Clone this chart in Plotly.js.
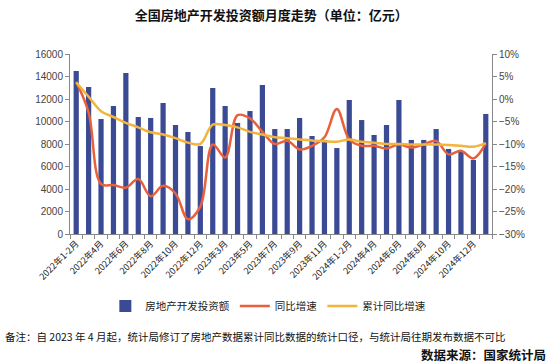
<!DOCTYPE html>
<html>
<head>
<meta charset="utf-8">
<script src="https://cdn.plot.ly/plotly-3.0.1.min.js"></script>
<style>
html,body{margin:0;padding:0;background:#fff;}
#chart{width:550px;height:363px;}
</style>
</head>
<body>
<div id="chart"></div>
<script>
var categories = [
  "2022年1-2月","2022年3月","2022年4月","2022年5月","2022年6月","2022年7月","2022年8月","2022年9月","2022年10月","2022年11月","2022年12月",
  "2023年1-2月","2023年3月","2023年4月","2023年5月","2023年6月","2023年7月","2023年8月","2023年9月","2023年10月","2023年11月","2023年12月",
  "2024年1-2月","2024年3月","2024年4月","2024年5月","2024年6月","2024年7月","2024年8月","2024年9月","2024年10月","2024年11月","2024年12月",
  "2025年1-2月"
];
var tickLabels = [
  "2022年1-2月","","2022年4月","","2022年6月","","2022年8月","","2022年10月","","2022年12月",
  "","2023年3月","","2023年5月","","2023年7月","","2023年9月","","2023年11月","",
  "2024年1-2月","","2024年4月","","2024年6月","","2024年8月","","2024年10月","","2024年12月",
  ""
];
var investment = [14499, 13070, 10220, 11380, 14310, 10400, 10310, 11640, 9690, 9070, 7820,
  12980, 11380, 9870, 10930, 13240, 9330, 9330, 10310, 8710, 8360, 7640,
  11910, 10130, 8800, 9690, 11910, 8360, 8360, 9330, 7560, 7290, 6580,
  10670];
var yoy = [3.8, -3.0, -18.9, -19.1, -19.7, -17.8, -21.6, -19.3, -21.0, -26.7, -23.9,
  -10.1, -13.0, -3.6, -4.3, -7.3, -10.0, -9.3, -11.2, -10.4, -8.5, -2.2,
  -9.0, -10.4, -10.4, -11.0, -10.1, -10.8, -10.1, -9.3, -12.3, -11.5, -13.2,
  -9.8];
var cumYoy = [3.7, 0.5, -2.7, -4.0, -5.3, -6.3, -7.4, -7.9, -8.7, -9.7, -10.0,
  -5.7, -5.8, -6.3, -7.3, -7.9, -8.5, -8.7, -9.0, -9.2, -9.4, -9.5,
  -9.0, -9.5, -9.7, -10.0, -10.0, -10.1, -10.1, -10.1, -10.2, -10.4, -10.6,
  -9.8];

var seriesNames = ["房地产开发投资额", "同比增速", "累计同比增速"];

var traces = [
  {type: "bar", x: categories, y: investment, name: seriesNames[0],
   marker: {color: "#3A4A94"}, yaxis: "y"},
  {type: "scatter", mode: "lines", x: categories, y: yoy, name: seriesNames[1],
   line: {color: "#E8613C", width: 2.5, shape: "spline", smoothing: 1}, yaxis: "y2"},
  {type: "scatter", mode: "lines", x: categories, y: cumYoy, name: seriesNames[2],
   line: {color: "#F2B43C", width: 2.5, shape: "spline", smoothing: 1}, yaxis: "y2"}
];

var axisFont = {family: "Liberation Sans, Arial, sans-serif", size: 10, color: "#444"};

var layout = {
  width: 550, height: 363,
  margin: {l: 70, r: 58, t: 54, b: 129},
  paper_bgcolor: "#fff", plot_bgcolor: "#fff",
  title: {
    text: "<b>全国房地产开发投资额月度走势（单位：亿元）</b>",
    font: {family: "Noto Sans CJK SC", size: 13, color: "#111"},
    x: 0.493, xanchor: "center", xref: "container",
    y: 0.958, yanchor: "middle", yref: "container"
  },
  bargap: 0.58,
  showlegend: true,
  legend: {
    orientation: "h", x: 0.47, xanchor: "center", y: -0.4, yanchor: "middle",
    font: {family: "Noto Sans CJK SC", size: 10.5, color: "#222"},
    itemwidth: 30, traceorder: "normal", tracegroupgap: 0
  },
  xaxis: {
    type: "category",
    tickmode: "array", tickvals: categories, ticktext: tickLabels,
    tickson: "boundaries", ticks: "outside", ticklen: 4, tickcolor: "#888",
    showline: true, linecolor: "#888", linewidth: 1,
    tickangle: -45,
    tickfont: {family: "Noto Sans CJK SC", size: 9, color: "#222"},
    showgrid: false, zeroline: false, fixedrange: true
  },
  yaxis: {
    range: [0, 16000], dtick: 2000, tick0: 0, tickformat: "d",
    ticks: "outside", ticklen: 4, tickcolor: "#888",
    showline: true, linecolor: "#888", linewidth: 1,
    tickfont: axisFont, showgrid: false, zeroline: false
  },
  yaxis2: {
    overlaying: "y", side: "right",
    range: [-30, 10], dtick: 5, tick0: 0, ticksuffix: "%",
    ticks: "outside", ticklen: 4, tickcolor: "#888",
    showline: true, linecolor: "#888", linewidth: 1,
    tickfont: axisFont, showgrid: false, zeroline: false
  },
  annotations: [
    {text: "备注：自 2023 年 4 月起，统计局修订了房地产数据累计同比数据的统计口径，与统计局往期发布数据不可比",
     xref: "paper", yref: "paper", x: -0.159, xanchor: "left", y: -0.567, yanchor: "middle",
     showarrow: false, font: {family: "Noto Sans CJK SC", size: 10.5, color: "#111"}},
    {text: "<b>数据来源：国家统计局</b>",
     xref: "paper", yref: "paper", x: 1.133, xanchor: "right", y: -0.669, yanchor: "middle",
     showarrow: false, font: {family: "Noto Sans CJK SC", size: 12.5, color: "#111"}}
  ]
};

Plotly.newPlot("chart", traces, layout, {displayModeBar: false, staticPlot: true});
</script>
</body>
</html>
